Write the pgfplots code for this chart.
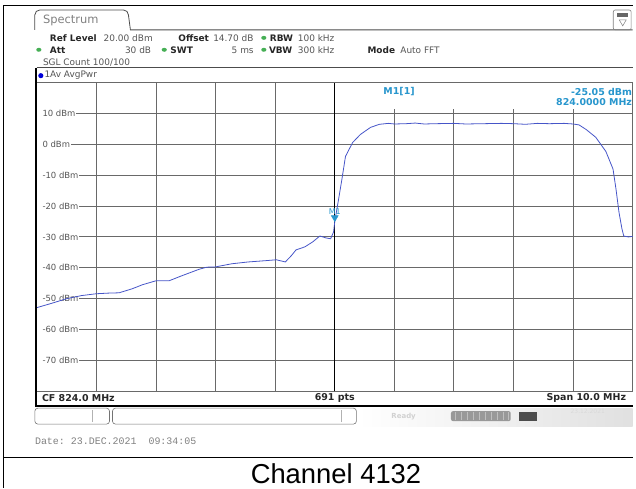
\documentclass[border=0pt]{standalone}
\usepackage{pgfplots}
\pgfplotsset{compat=1.18}
\usepackage{fontspec}
\setmainfont{DejaVu Sans}
\newfontfamily\capfont{Liberation Sans}
\newfontfamily\monofont{Liberation Mono}
\definecolor{trace}{RGB}{70,85,200}
\definecolor{gridc}{RGB}{105,105,105}
\definecolor{mk}{RGB}{40,150,205}
\definecolor{hdr}{RGB}{85,85,85}
\definecolor{dotg}{RGB}{70,175,85}
\begin{document}
\begin{tikzpicture}[x=1pt,y=1pt,
  hb/.style={anchor=base west,inner sep=0pt,font=\fontsize{9}{10}\selectfont\bfseries,text=black!85},
  hv/.style={anchor=base west,inner sep=0pt,font=\fontsize{9}{10}\selectfont,text=hdr},
  hve/.style={anchor=base east,inner sep=0pt,font=\fontsize{9}{10}\selectfont,text=hdr},
  gdot/.style={fill=dotg,draw=none}]
\path[draw=none] (0,0) rectangle (636,490);
% outer frame
\draw[line width=1pt] (4,0) -- (4,484) -- (635.5,484);
\draw[line width=1pt] (4,30) -- (635.5,30);
% tab
\draw[line width=0.8pt,black!70] (35,460) -- (35,475) to[out=90,in=180] (40,480) -- (124,480) to[out=0,in=90] (129,475) -- (131,460) -- (635.5,460);
\node[anchor=west,inner sep=0pt,text=gray,font=\fontsize{11.5}{12}\selectfont] at (43,469) {Spectrum};
% icon top right
\draw[black!50,line width=0.6pt,rounded corners=2pt] (616,460) rectangle (634,480);
\fill[black!60] (620,473) rectangle (631,477);
\draw[black!50,line width=0.5pt] (622,470) -- (629,470) -- (625.5,464) -- cycle;
% header
\node[hb] at (50,448.5) {Ref Level};
\node[hv] at (104,448.5) {20.00 dBm};
\node[hb] at (179,448.5) {Offset};
\node[hv] at (214,448.5) {14.70 dB};
\fill[gdot] (265,452) ellipse (2.6pt and 2pt);
\node[hb] at (271,448.5) {RBW};
\node[hv] at (299,448.5) {100 kHz};
\fill[gdot] (39,440) ellipse (2.6pt and 2pt);
\node[hb] at (50,436.5) {Att};
\node[hve] at (152,436.5) {30 dB};
\fill[gdot] (165,440) ellipse (2.6pt and 2pt);
\node[hb] at (171,436.5) {SWT};
\node[hve] at (255,436.5) {5 ms};
\fill[gdot] (265,440) ellipse (2.6pt and 2pt);
\node[hb] at (270,436.5) {VBW};
\node[hv] at (299,436.5) {300 kHz};
\node[hb] at (369,436.5) {Mode};
\node[hv] at (402,436.5) {Auto FFT};
\node[hv] at (43,424.5) {SGL Count 100/100};
% trace bar
\draw[black!70,line width=0.8pt] (37,422) -- (635.5,422);
\fill[blue!85!black] (41,414) circle (2.6pt);
\node[anchor=west,inner sep=0pt,text=hdr,font=\fontsize{9}{10}\selectfont] at (44.5,414) {1Av AvgPwr};
\begin{axis}[at={(37pt,97pt)},anchor=south west,scale only axis,width=598.5pt,height=310pt,
  xmin=819,xmax=829,ymin=-80,ymax=20,
  xtick={819,820,...,829},ytick={-80,-70,...,20},
  xticklabels={},yticklabels={},major tick length=0pt,
  grid=major,major grid style={gridc,line width=0.9pt},
  axis line style={gridc,line width=0.9pt},clip=false]
\draw[black,line width=0.7pt] (axis cs:824,-80) -- (axis cs:824,20);
\pgfplotsinvokeforeach{10,0,-10,-20,-30,-40,-50,-60,-70}{
  \node[anchor=west,fill=white,inner xsep=0pt,inner ysep=1.5pt,text=hdr,font=\fontsize{8.5}{9}\selectfont] at (axis cs:819,#1) {\hspace*{5.5pt}#1 dBm\hspace*{1pt}};
}
\addplot[trace,line width=0.8pt,no marks] table {
819.00 -52.9
819.25 -51.5
819.50 -50.0
819.75 -49.0
820.00 -48.4
820.20 -48.2
820.38 -48.1
820.60 -46.8
820.77 -45.5
821.00 -44.2
821.22 -44.2
821.43 -42.6
821.72 -40.5
821.85 -39.8
822.00 -39.7
822.27 -38.7
822.55 -38.1
822.83 -37.7
823.02 -37.4
823.17 -38.1
823.27 -36.1
823.35 -34.2
823.50 -33.2
823.63 -31.6
823.75 -29.7
823.85 -30.3
823.93 -30.6
823.98 -28.4
824.00 -25.05
824.05 -19.4
824.12 -11.3
824.18 -3.9
824.30 0.6
824.43 3.2
824.60 5.5
824.75 6.5
824.90 6.8
825.00 6.6
825.20 6.7
825.35 6.9
825.50 6.6
825.70 6.7
826.00 6.8
826.20 6.6
826.50 6.7
826.80 6.8
827.00 6.7
827.20 6.5
827.40 6.8
827.60 6.7
827.85 6.8
828.00 6.6
828.10 6.3
828.22 4.8
828.38 2.3
828.55 -2.3
828.67 -8.0
828.72 -14.5
828.77 -22.0
828.82 -27.4
828.85 -29.7
828.93 -30.0
829.00 -29.8
};
\addplot[only marks,mark=triangle*,mark size=4pt,color=mk,mark options={yshift=4pt,rotate=180}] coordinates {(824,-25.05)};
\node[anchor=south,inner sep=0pt,text=mk,font=\fontsize{8}{9}\selectfont,yshift=7.5pt] at (axis cs:824,-25.05) {M1};
\end{axis}
% marker info box
\fill[white] (338.5,381) rectangle (635,406.4);
\node[anchor=west,inner sep=0pt,text=mk,font=\fontsize{9.5}{10}\selectfont\bfseries] at (385,398) {M1[1]};
\node[anchor=east,inner sep=0pt,text=mk,font=\fontsize{9.5}{10}\selectfont\bfseries] at (635,398) {-25.05 dBm};
\node[anchor=east,inner sep=0pt,text=mk,font=\fontsize{9.5}{10}\selectfont\bfseries] at (635,387) {824.0000 MHz};
% left thick frame and bottom bar
\draw[black,line width=2pt] (36,422) -- (36,82) -- (635.5,82);
\node[anchor=west,inner sep=0pt,text=black!85,font=\fontsize{9.5}{10}\selectfont\bfseries] at (42,90) {CF 824.0 MHz};
\node[anchor=west,inner sep=0pt,text=black!85,font=\fontsize{9.5}{10}\selectfont\bfseries] at (316,90) {691 pts};
\node[anchor=east,inner sep=0pt,text=black!85,font=\fontsize{9.5}{10}\selectfont\bfseries] at (629,90) {Span 10.0 MHz};
% soft keys area
\draw[black!55,line width=0.6pt,rounded corners=3pt] (35,64) rectangle (110,80);
\draw[black!30,line width=0.4pt] (93,66) -- (93,78);
\draw[black!55,line width=0.6pt,rounded corners=3pt] (113,64) rectangle (358,80);
\draw[black!30,line width=0.4pt] (343,66) -- (343,78);
\shade[left color=white,right color=black!12] (360,62) rectangle (635.5,80);
\node[anchor=west,inner sep=0pt,text=black!18,font=\fontsize{7}{8}\selectfont\bfseries] at (393,72) {Ready};
\fill[black!40,rounded corners=2pt] (453,67) rectangle (513,77);
\foreach \i in {457,463,...,511}{\draw[black!25,line width=0.5pt] (\i,68) -- (\i,76);}
\fill[black!70] (521,67.5) rectangle (539,76.5);
\node[anchor=west,inner sep=0pt,text=black!15,font=\fontsize{6}{7}\selectfont] at (573,77) {23.12.2021};
% date
\node[anchor=west,inner sep=0pt,text=black!50,font=\monofont\fontsize{10}{11}\selectfont] at (35,47) {Date:~23.DEC.2021~~09:34:05};
% caption
\node[inner sep=0pt,font=\capfont\fontsize{27.5}{29}\selectfont] at (337.5,14.5) {Channel 4132};
\end{tikzpicture}
\end{document}
